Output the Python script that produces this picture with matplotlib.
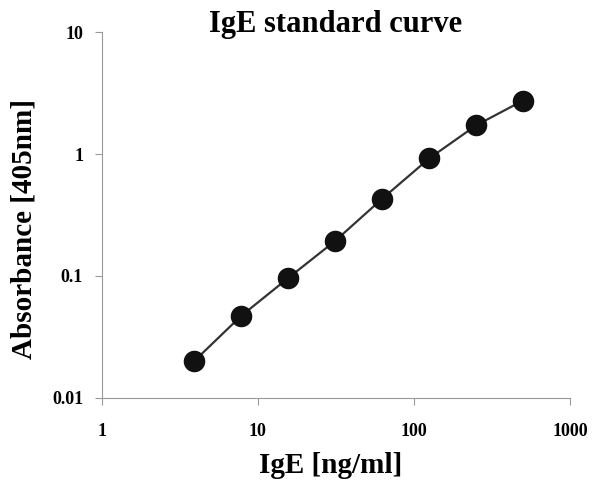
import matplotlib
matplotlib.use('Agg')
from matplotlib import pyplot as plt
from matplotlib.ticker import FixedLocator, FixedFormatter, NullLocator

conc = [3.9, 7.8, 15.6, 31.25, 62.5, 125, 250, 500]
absorbance = [0.020, 0.047, 0.096, 0.194, 0.43, 0.92, 1.72, 2.75]

xticks = [1, 10, 100, 1000]
xticklabels = ['1', '10', '100', '1000']
yticks = [0.01, 0.1, 1, 10]
yticklabels = ['0.01', '0.1', '1', '10']

plt.rcParams['font.family'] = 'Liberation Serif'
plt.rcParams['font.weight'] = 'bold'

fig = plt.figure(figsize=(5.92, 4.8), dpi=100)
ax = fig.add_axes([0.172, 0.171, 0.791, 0.762])

ax.plot(conc, absorbance, '-', color='#333333', lw=1.6, zorder=2)
ax.plot(conc, absorbance, 'o', color='#111111', ms=14.5, zorder=3)

ax.set_xscale('log')
ax.set_yscale('log')
ax.set_xlim(1, 1000)
ax.set_ylim(0.01, 10)
ax.xaxis.set_major_locator(FixedLocator(xticks))
ax.xaxis.set_major_formatter(FixedFormatter(xticklabels))
ax.yaxis.set_major_locator(FixedLocator(yticks))
ax.yaxis.set_major_formatter(FixedFormatter(yticklabels))
ax.xaxis.set_minor_locator(NullLocator())
ax.yaxis.set_minor_locator(NullLocator())

for s in ['top', 'right']:
    ax.spines[s].set_visible(False)
for s in ['left', 'bottom']:
    ax.spines[s].set_color('#999999')
    ax.spines[s].set_linewidth(0.8)
ax.tick_params(direction='out', length=5, width=0.8, color='#999999',
               labelsize=13)
ax.tick_params(axis='y', pad=8.5)
ax.tick_params(axis='x', pad=13)

ax.set_title('IgE standard curve', fontsize=22, fontweight='bold', y=1.0, pad=0)
ax.set_xlabel('IgE [ng/ml]', fontsize=21, fontweight='bold', labelpad=9)
ax.xaxis.label.set_x(0.488)
ax.set_ylabel('Absorbance [405nm]', fontsize=21, fontweight='bold')
ax.yaxis.set_label_coords(-0.137, 0.462)

plt.savefig('out.png', dpi=100)
